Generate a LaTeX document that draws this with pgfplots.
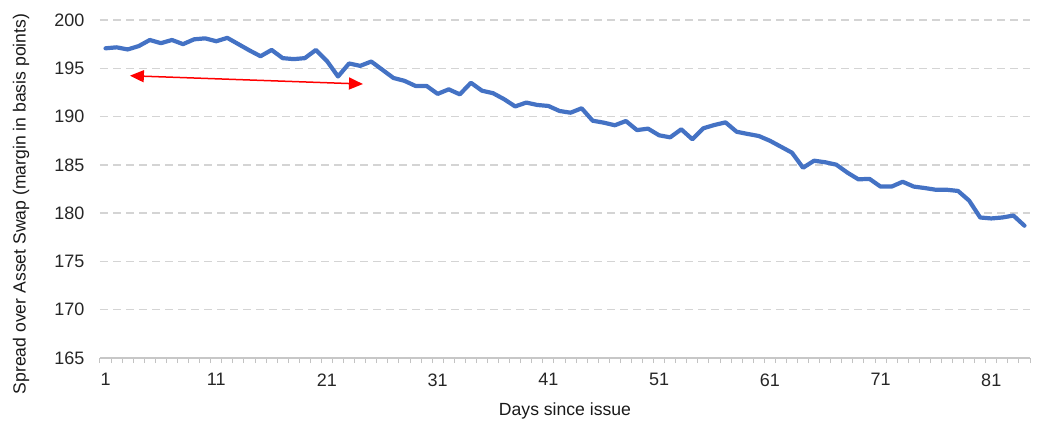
\documentclass[border=0pt]{standalone}
\usepackage{fontspec}
\setmainfont{Liberation Sans}
\usepackage{pgfplots}
\pgfplotsset{compat=1.18}
\usetikzlibrary{arrows.meta}
\definecolor{lineblue}{HTML}{4472C4}
\definecolor{gridgray}{HTML}{D4D4D4}
\begin{document}
\begin{tikzpicture}
\begin{axis}[
  name=ax,
  scale only axis,
  width=930bp, height=338bp,
  xmin=0.5, xmax=84.5,
  ymin=165, ymax=200,
  ytick={165,170,...,200},
  xtick={1,11,...,81},
  minor xtick={0.5,1.5,...,84.5},
  major tick length=0pt,
  minor tick length=5bp,
  tick align=outside,
  tick pos=bottom,
  minor tick style={draw=gridgray!80!gray, line width=1bp},
  axis x line*=bottom,
  axis y line*=left,
  x axis line style={draw=gridgray!85!gray, line width=1.3bp, -},
  y axis line style={draw=none},
  ymajorgrids,
  major grid style={draw=gridgray, line width=1.5bp, dash pattern=on 8bp off 5bp},
  /pgf/number format/assume math mode=true,
  ticklabel style={font=\fontsize{18bp}{20bp}\selectfont, text=black!85},
  yticklabel style={anchor=east, xshift=-12bp},
  xticklabel style={anchor=north, yshift=-12bp},
  xlabel={Days since issue},
  ylabel={Spread over Asset Swap (margin in basis points)},
  label style={font=\fontsize{17.6bp}{20bp}\selectfont, text=black!90},
  xlabel style={at={(axis description cs:0.5,0)}, anchor=center, yshift=-53bp},
  ylabel style={at={([xshift=-79bp,yshift=-15bp]axis description cs:0,0.5)}, anchor=center},
  clip=false,
]
\addplot[color=lineblue, line width=4.2bp, line join=round, line cap=round] coordinates {
(1,197.07) (2,197.17) (3,196.95) (4,197.3) (5,197.93) (6,197.6) (7,197.93) (8,197.5) (9,198.0) (10,198.1)
(11,197.8) (12,198.15) (13,197.5) (14,196.85) (15,196.25) (16,196.9) (17,196.05) (18,195.95) (19,196.05) (20,196.9)
(21,195.75) (22,194.15) (23,195.5) (24,195.25) (25,195.7) (26,194.85) (27,194.0) (28,193.7) (29,193.17) (30,193.17)
(31,192.35) (32,192.82) (33,192.3) (34,193.5) (35,192.68) (36,192.42) (37,191.8) (38,191.05) (39,191.45) (40,191.2)
(41,191.1) (42,190.58) (43,190.4) (44,190.86) (45,189.57) (46,189.37) (47,189.1) (48,189.54) (49,188.6) (50,188.75)
(51,188.06) (52,187.85) (53,188.68) (54,187.65) (55,188.79) (56,189.13) (57,189.4) (58,188.43) (59,188.2) (60,187.99)
(61,187.5) (62,186.88) (63,186.26) (64,184.7) (65,185.43) (66,185.27) (67,185.02) (68,184.2) (69,183.5) (70,183.55)
(71,182.75) (72,182.75) (73,183.25) (74,182.75) (75,182.6) (76,182.42) (77,182.42) (78,182.3) (79,181.3) (80,179.55)
(81,179.45) (82,179.55) (83,179.75) (84,178.7)
};
\addplot[color=red, line width=1.5bp, {Triangle[length=14bp,width=12bp]}-{Triangle[length=14bp,width=12bp]}] coordinates {
(3.2,194.23) (24.25,193.37)
};
\end{axis}
\pgfresetboundingbox
\path[use as bounding box] ([shift={(-100bp,-72bp)}]ax.south west) rectangle ([shift={(12bp,20bp)}]ax.north east);
\end{tikzpicture}
\end{document}
